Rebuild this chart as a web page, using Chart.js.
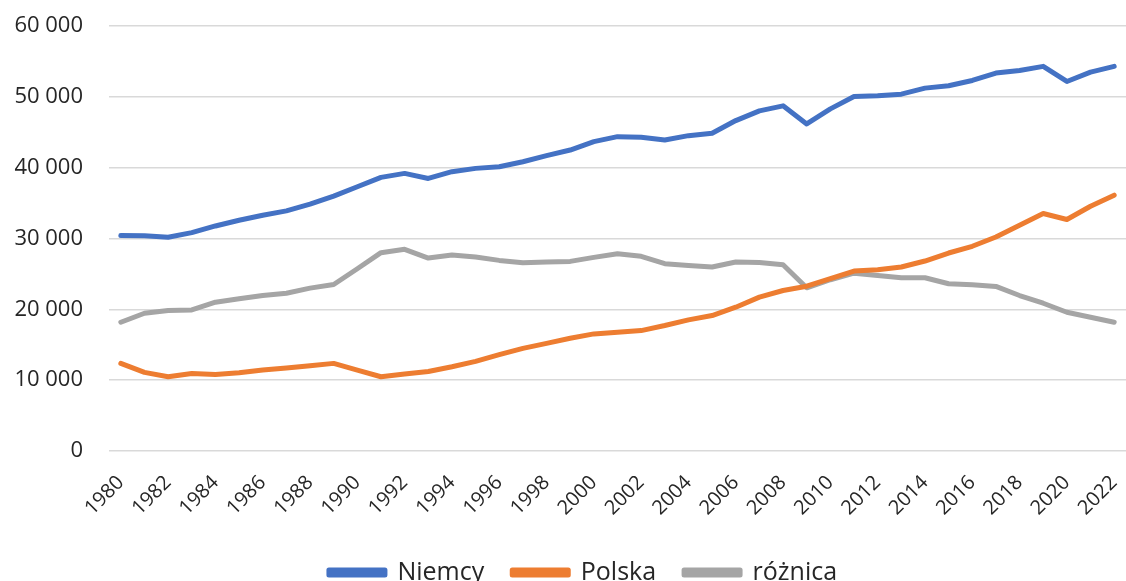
<!DOCTYPE html>
<html>
<head>
<meta charset="utf-8">
<script src="https://cdn.jsdelivr.net/npm/chart.js@4"></script>
<style>
  html, body { margin: 0; padding: 0; background: #fff; overflow: hidden; }
  #wrap { width: 1126px; height: 595px; position: relative; }
</style>
</head>
<body>
<div id="wrap"><canvas id="chart"></canvas></div>
<script>
// years 1980-2022
const years = [];
for (let y = 1980; y <= 2022; y++) years.push(String(y));

const niemcy = [30410, 30400, 30170, 30830, 31770, 32580, 33290, 33900, 34840, 35980,
  37300, 38630, 39190, 38480, 39430, 39900, 40130, 40840, 41690, 42490,
  43670, 44380, 44290, 43910, 44520, 44850, 46650, 48020, 48730, 46180,
  48300, 50040, 50140, 50380, 51230, 51560, 52310, 53350, 53730, 54300,
  52170, 53490, 54300];

const polska = [12370, 11100, 10480, 10950, 10810, 11050, 11430, 11710, 12040, 12370,
  11430, 10480, 10860, 11230, 11900, 12650, 13600, 14490, 15200, 15910,
  16530, 16760, 17000, 17710, 18510, 19120, 20300, 21720, 22660, 23270,
  24320, 25400, 25590, 25970, 26820, 27950, 28900, 30210, 31870, 33530,
  32680, 34560, 36120];

const roznica = [18180, 19450, 19830, 19920, 21010, 21490, 21950, 22280, 22990, 23510,
  25730, 28000, 28470, 27240, 27670, 27380, 26910, 26580, 26680, 26770,
  27340, 27860, 27480, 26440, 26200, 25970, 26680, 26600, 26300, 23040,
  24180, 25110, 24790, 24460, 24460, 23610, 23470, 23230, 21950, 20860,
  19590, 18880, 18180];

const fontFamily = '"Open Sans", "Noto Sans", sans-serif';
const textColor = '#262626';

function fmt(v) {
  return String(v).replace(/\B(?=(\d{3})+(?!\d))/g, ' ');
}

function line(label, data, color) {
  return {
    label: label,
    data: data,
    borderColor: color,
    backgroundColor: color,
    borderWidth: 5,
    pointRadius: 0,
    tension: 0,
    borderCapStyle: 'round',
    borderJoinStyle: 'round'
  };
}

// nudge the bottom legend a bit to the right, like in the original
const legendShift = {
  id: 'legendShift',
  afterLayout(chart) {
    chart.legend.left += 15;
    chart.legend.right += 15;
  }
};

new Chart(document.getElementById('chart'), {
  type: 'line',
  data: {
    labels: years,
    datasets: [
      line('Niemcy', niemcy, '#4472C4'),
      line('Polska', polska, '#ED7D31'),
      line('różnica', roznica, '#A5A5A5')
    ]
  },
  plugins: [legendShift],
  options: {
    responsive: true,
    maintainAspectRatio: false,
    animation: false,
    layout: { padding: { top: 26, right: 0, left: 10, bottom: 0 } },
    plugins: {
      legend: {
        position: 'bottom',
        labels: {
          color: textColor,
          font: { family: fontFamily, size: 25 },
          boxWidth: 56,
          boxHeight: 5,
          padding: 28
        }
      },
      tooltip: { enabled: false }
    },
    scales: {
      x: {
        offset: true,
        grid: { display: false },
        border: { display: false },
        afterFit: function(scale) {
          scale.height = 81;
          scale.paddingLeft = 0;
          scale.paddingRight = 0;
        },
        ticks: {
          autoSkip: false,
          maxRotation: 45,
          minRotation: 45,
          color: textColor,
          font: { family: fontFamily, size: 20 },
          padding: 12,
          callback: function(v, i) { return i % 2 === 0 ? years[i] : null; }
        }
      },
      y: {
        min: 0,
        max: 60000,
        afterFit: function(scale) {
          scale.width = 99;
          scale.paddingTop = 0;
          scale.paddingBottom = 0;
        },
        grid: { color: '#d9d9d9', lineWidth: 1.5, drawTicks: false },
        border: { display: false },
        ticks: {
          stepSize: 10000,
          color: textColor,
          font: { family: fontFamily, size: 22 },
          padding: 26,
          callback: function(v) { return fmt(v); }
        }
      }
    }
  }
});
</script>
</body>
</html>
